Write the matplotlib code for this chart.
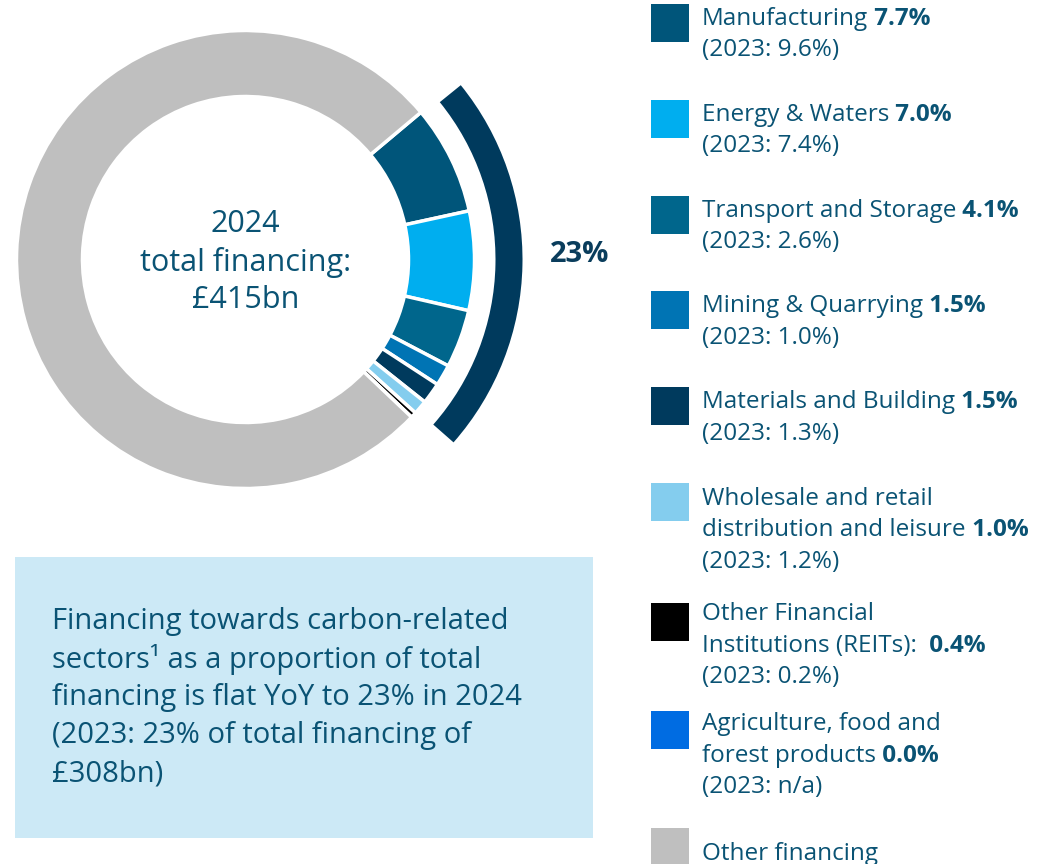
import matplotlib.pyplot as plt
from matplotlib.patches import Wedge, Rectangle

plt.rcParams['font.family'] = ['Open Sans', 'DejaVu Sans']

# Sector shares of 2024 total financing (%), plus prior-year labels
sectors = [
    "Manufacturing", "Energy & Waters", "Transport and Storage",
    "Mining & Quarrying", "Materials and Building",
    "Wholesale and retail\ndistribution and leisure",
    "Other Financial\nInstitutions (REITs): ", "Agriculture, food and\nforest products",
    "Other financing",
]
share_2024 = [7.7, 7.0, 4.1, 1.5, 1.5, 1.0, 0.4, 0.0, 76.8]
label_2023 = ["9.6%", "7.4%", "2.6%", "1.0%", "1.3%", "1.2%", "0.2%", "n/a", None]
colors = ["#00557A", "#00AEEF", "#00668C", "#0074B4", "#003A5D",
          "#84CDEE", "#000000", "#006CE2", "#BFBFBF"]

carbon_share = 23
total_label = "£415bn"
box_lines = [
    "Financing towards carbon-related",
    "sectors¹ as a proportion of total",
    "financing is flat YoY to 23% in 2024",
    "(2023: 23% of total financing of",
    "£308bn)",
]
text_color = "#0A5374"

W, H = 1049, 864
fig = plt.figure(figsize=(W / 100, H / 100), dpi=100)
ax = fig.add_axes([0, 0, 1, 1])

# Donut, clockwise from the top-right
cx, cy = 245.5, H - 259.5
start = 40
ax.pie(share_2024, colors=colors, startangle=start, counterclock=False,
       center=(cx, cy), radius=229,
       wedgeprops=dict(width=66, edgecolor="white", linewidth=2.5))

# Outer bracket spanning the carbon-related sectors
carbon_sum = sum(share_2024[:-1])
end = start - 360 * carbon_sum / 100
ax.add_patch(Wedge((cx, cy), 277, end + 2.2, start - 1, width=27,
                   facecolor="#003A5D", edgecolor="none"))
ax.text(580, H - 255, f"{carbon_share}%", ha="center", va="center",
        fontsize=21, fontweight="bold", color="#0A3D5C")

for i, ln in enumerate(["2024", "total financing:", total_label]):
    ax.text(cx, H - 224 - 38 * i, ln, ha="center", va="center",
            fontsize=22, color=text_color)

# Legend
tops = [4, 100, 196, 291, 387, 483, 603, 711, 828]
first_line = [19, 115, 211, 306, 402, 499, 614, 724, 854]
for name, val, prev, col, top, y0 in zip(sectors, share_2024, label_2023,
                                         colors, tops, first_line):
    ax.add_patch(Rectangle((651, H - top - 38), 38, 38, facecolor=col,
                           edgecolor="none"))
    lines = name.split("\n")
    for i, ln in enumerate(lines):
        t = ax.text(702, H - y0 - 31.5 * i, ln, ha="left", va="center",
                    fontsize=17.5, color=text_color)
    if prev is not None:
        ax.annotate(f" {val:.1f}%", xy=(1, 0), xycoords=t, va="bottom",
                    ha="left", fontsize=17.5, fontweight="bold",
                    color=text_color)
        ax.text(702, H - y0 - 31.5 * len(lines), f"(2023: {prev})", ha="left",
                va="center", fontsize=17.5, color=text_color)

# Commentary box
ax.add_patch(Rectangle((15, H - 838), 578, 281, facecolor="#CCE9F6",
                       edgecolor="none"))
for i, ln in enumerate(box_lines):
    ax.text(52, H - 621 - 38.2 * i, ln, ha="left", va="center",
            fontsize=21, color=text_color)

ax.set_xlim(0, W)
ax.set_ylim(0, H)
ax.set_aspect("equal")
ax.axis("off")

fig.savefig("out.png", dpi=100)
